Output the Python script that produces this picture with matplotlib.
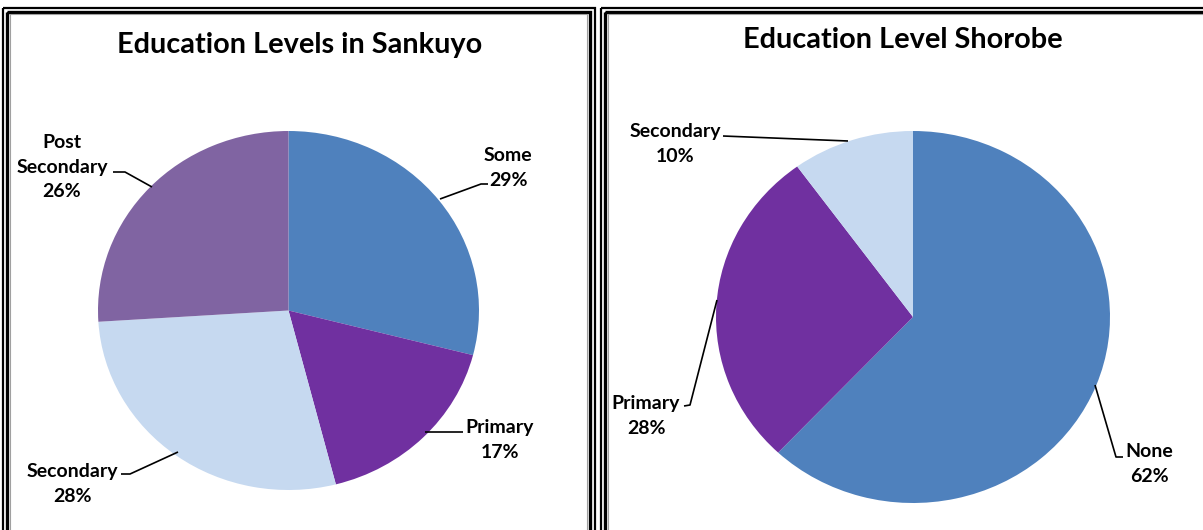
import matplotlib
matplotlib.use("Agg")
import matplotlib.pyplot as plt
from matplotlib.patches import Rectangle

# ---- data ----
sankuyo_labels = ["Some", "Primary", "Secondary", "Post\nSecondary"]
sankuyo_values = [29, 17, 28, 26]
sankuyo_colors = ["#4F81BD", "#7030A0", "#C6D9F0", "#8064A2"]

shorobe_labels = ["None", "Primary", "Secondary"]
shorobe_values = [62, 28, 10]
shorobe_colors = ["#4F81BD", "#7030A0", "#C6D9F0"]

titles = ["Education Levels in Sankuyo", "Education Level Shorobe"]

W, H = 1203, 530
fig = plt.figure(figsize=(W / 100, H / 100), dpi=100)
FONT = "Lato"


def px_axes(left, top, right, bottom, z=1):
    return fig.add_axes([left / W, 1 - bottom / H, (right - left) / W, (bottom - top) / H], zorder=z)


# overlay axes in pixel coords
ov = fig.add_axes([0, 0, 1, 1], zorder=5)
ov.set_xlim(0, W)
ov.set_ylim(H, 0)
ov.axis("off")
ov.patch.set_alpha(0)


def frame(l, t, r):
    b = H + 20
    ov.add_patch(Rectangle((l, t), r - l, b - t, fill=False, ec="black", lw=1.6))
    ov.add_patch(Rectangle((l + 4.5, t + 4), r - l - 9, b - t, fill=False, ec="black", lw=2.4))
    ov.add_patch(Rectangle((l + 7.5, t + 6.5), r - l - 15, b - t, fill=False, ec="#A0A0A0", lw=0.8))


frame(2.5, 7.5, 594.5)
frame(600.5, 7.5, 1215)

# pies
axL = px_axes(98, 131, 479, 490)
axL.pie(sankuyo_values, colors=sankuyo_colors, startangle=90, counterclock=False,
        wedgeprops=dict(linewidth=0))
axL.set_aspect("auto")
axL.set_xlim(-1, 1)
axL.set_ylim(-1, 1)

axR = px_axes(716, 131, 1110, 503)
axR.pie(shorobe_values, colors=shorobe_colors, startangle=90, counterclock=False,
        wedgeprops=dict(linewidth=0))
axR.set_aspect("auto")
axR.set_xlim(-1, 1)
axR.set_ylim(-1, 1)

# titles
ov.text(300, 45, titles[0], ha="center", va="center", fontsize=20.8, fontweight="bold", family=FONT)
ov.text(903, 40, titles[1], ha="center", va="center", fontsize=20.8, fontweight="bold", family=FONT)

tkw = dict(ha="center", va="center", fontsize=14, fontweight="bold", family=FONT,
           linespacing=1.55)


def label(x, y, name, val):
    ov.text(x, y, f"{name}\n{val}%", **tkw)


def leader(xs, ys):
    ov.plot(xs, ys, color="black", lw=1.2, solid_capstyle="butt")


# Sankuyo labels
label(508, 168, sankuyo_labels[0], sankuyo_values[0])
leader([440, 481, 488], [199, 184, 184])
label(500, 440, sankuyo_labels[1], sankuyo_values[1])
leader([425, 463], [432, 432])
label(72, 484, sankuyo_labels[2], sankuyo_values[2])
leader([178, 130, 121], [452, 474, 474])
label(62, 167, sankuyo_labels[3], sankuyo_values[3])
leader([152, 125, 113], [187, 172, 172])

# Shorobe labels
label(1149, 464, shorobe_labels[0], shorobe_values[0])
leader([1095, 1116, 1123], [385, 457, 457])
label(646, 416, shorobe_labels[1], shorobe_values[1])
leader([717, 690, 684], [300, 405, 406])
label(675, 144, shorobe_labels[2], shorobe_values[2])
leader([723, 848], [136, 141])

fig.savefig("out.png", dpi=100)
